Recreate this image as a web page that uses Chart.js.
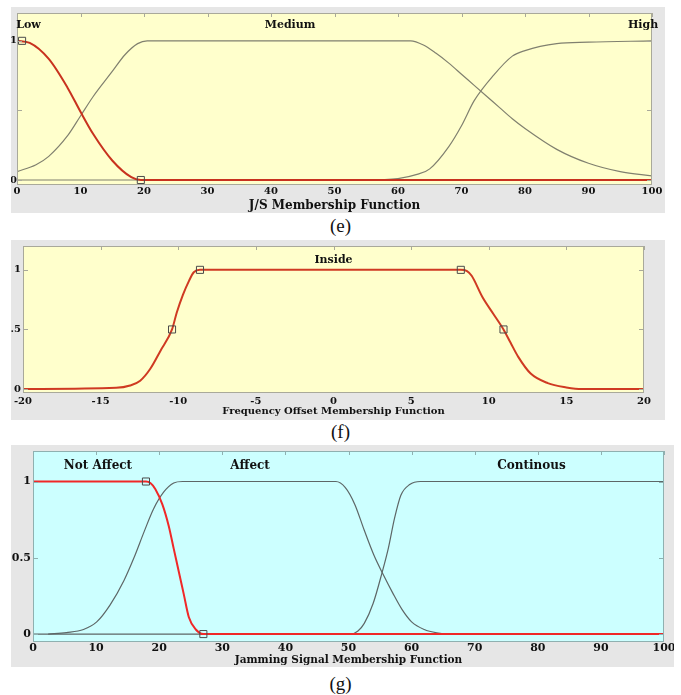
<!DOCTYPE html>
<html>
<head>
<meta charset="utf-8">
<title>Membership functions</title>
<script src="https://cdn.jsdelivr.net/npm/chart.js@4.4.1/dist/chart.umd.min.js"></script>
<style>
  body { margin: 0; background: #fff; }
  #page { position: relative; width: 681px; height: 695px; overflow: hidden; }
  canvas { position: absolute; }
  .cap { position: absolute; left: 0; width: 681px; text-align: center;
         font-family: "Liberation Serif", "Times New Roman", serif; font-size: 19px; color: #111; line-height: 22px; }
</style>
</head>
<body>
<div id="page">
  <canvas id="chartE" width="654" height="206" style="left:11px;top:7px"></canvas>
  <div class="cap" style="top:215px">(e)</div>
  <canvas id="chartF" width="654" height="180" style="left:11px;top:240px"></canvas>
  <div class="cap" style="top:421px">(f)</div>
  <canvas id="chartG" width="663" height="222" style="left:11px;top:445px"></canvas>
  <div class="cap" style="top:673px">(g)</div>
</div>
<script>
// ---- (e) J/S membership ----
const eXTicks = [0, 10, 20, 30, 40, 50, 60, 70, 80, 90, 100];
const eYTicks = [0, 0.5, 1];
const eYTickLabels = ['0', '', '1'];
const eLowX = [0, 2, 5, 8, 10, 12, 15, 18, 19.5, 40, 70, 100];
const eLowY = [1, 0.985, 0.87, 0.66, 0.49, 0.33, 0.14, 0.02, 0, 0, 0, 0];
const eMedX = [0, 3, 5, 8, 10, 12, 15, 17, 19, 20.5, 40, 62, 64, 66, 68, 70, 72, 74, 76, 78, 80, 85, 90, 95, 100];
const eMedY = [0.06, 0.11, 0.17, 0.32, 0.46, 0.6, 0.78, 0.9, 0.98, 1, 1, 1, 0.97, 0.91, 0.84, 0.76, 0.68, 0.6, 0.52, 0.44, 0.37, 0.22, 0.12, 0.06, 0.03];
const eHighX = [0, 55, 60, 63, 65, 68, 70, 72, 75, 78, 80, 85, 90, 100];
const eHighY = [0, 0, 0.01, 0.04, 0.08, 0.24, 0.39, 0.57, 0.75, 0.89, 0.93, 0.98, 0.99, 1];
const eMarkX = [0.8, 19.5];
const eMarkY = [1, 0];
const eNames = ['Low', 'Medium', 'High'];
const eNameX = [1.8, 43, 98.6];

// ---- (f) frequency offset membership ----
const fXTicks = [-20, -15, -10, -5, 0, 5, 10, 15, 20];
const fYTicks = [0, 0.5, 1];
const fYTickLabels = ['0', '.5', '1'];
const fInX = [-20, -14, -13.1, -12.45, -11.8, -11.15, -10.4, -10.1, -9.7, -9.3, -9, -8.6, 0, 8.2, 8.6, 8.9, 9.6, 10.3, 10.95, 11.4, 11.9, 12.7, 13.8, 15, 16, 20];
const fInY = [0, 0.01, 0.03, 0.07, 0.17, 0.32, 0.5, 0.64, 0.79, 0.91, 0.98, 1, 1, 1, 0.99, 0.95, 0.77, 0.63, 0.5, 0.39, 0.27, 0.13, 0.05, 0.014, 0, 0];
const fMarkX = [-10.4, -8.6, 8.2, 10.95];
const fMarkY = [0.5, 1, 1, 0.5];
const fNames = ['Inside'];
const fNameX = [0];

// ---- (g) jamming signal membership ----
const gXTicks = [0, 10, 20, 30, 40, 50, 60, 70, 80, 90, 100];
const gYTicks = [0, 0.5, 1];
const gYTickLabels = ['0', '0.5', '1'];
const gNotX = [0, 17.9, 18.6, 19.4, 20.5, 21.5, 22.3, 23.1, 23.9, 24.7, 25.8, 27, 50, 100];
const gNotY = [1, 1, 0.99, 0.95, 0.85, 0.71, 0.56, 0.41, 0.26, 0.11, 0.03, 0, 0, 0];
const gAffX = [2.4, 5.3, 8, 10.1, 12.2, 14.4, 16, 17.6, 19.1, 20.7, 22.3, 23.7, 48, 49.5, 51, 52.5, 54, 55.5, 57, 58.5, 60, 62, 64, 66, 100];
const gAffY = [0, 0.01, 0.03, 0.08, 0.19, 0.35, 0.5, 0.67, 0.82, 0.93, 0.99, 1, 1, 0.96, 0.85, 0.68, 0.52, 0.39, 0.27, 0.16, 0.08, 0.03, 0.008, 0, 0];
const gContX = [0, 50.4, 51.5, 52.5, 53.9, 55.3, 56.3, 57.3, 58.3, 59.7, 61.4, 100];
const gContY = [0, 0, 0.02, 0.07, 0.2, 0.4, 0.56, 0.76, 0.91, 0.98, 1, 1];
const gMarkX = [17.9, 27];
const gMarkY = [1, 0];
const gNames = ['Not Affect', 'Affect', 'Continous'];
const gNameX = [10.3, 34.4, 79];

Chart.defaults.font.family = '"DejaVu Serif", serif';
Chart.defaults.font.weight = 'bold';
Chart.defaults.color = '#111';

function pts(xs, ys) {
    return xs.map((x, i) => ({ x: x, y: ys[i] }));
}

function curve(xs, ys, color, width) {
    return { data: pts(xs, ys), borderColor: color, borderWidth: width, pointRadius: 0,
             cubicInterpolationMode: 'monotone', fill: false };
}

function marks(xs, ys) {
    return { data: pts(xs, ys), showLine: false, pointStyle: 'rect', pointRadius: 5,
             pointBackgroundColor: 'rgba(0,0,0,0)', pointBorderColor: '#4a4a4a', pointBorderWidth: 1 };
}

// background, plot frame, inward ticks and the MF names
const mfFrame = {
    id: 'mfFrame',
    beforeDraw(chart, args, o) {
        const { ctx, chartArea: a } = chart;
        ctx.save();
        ctx.fillStyle = o.bg;
        ctx.fillRect(0, 0, chart.width, chart.height);
        ctx.fillStyle = o.plot;
        ctx.fillRect(a.left, a.top, a.right - a.left, a.bottom - a.top);
        ctx.restore();
    },
    afterDraw(chart, args, o) {
        const { ctx, chartArea: a } = chart;
        const x = chart.scales.x, y = chart.scales.y;
        ctx.save();
        ctx.strokeStyle = o.edge;
        ctx.lineWidth = 1;
        ctx.strokeRect(a.left + 0.5, a.top + 0.5, a.right - a.left - 1, a.bottom - a.top - 1);
        ctx.beginPath();
        y.ticks.forEach(t => {
            const py = Math.round(y.getPixelForValue(t.value)) + 0.5;
            ctx.moveTo(a.left, py); ctx.lineTo(a.left + 5, py);
            ctx.moveTo(a.right, py); ctx.lineTo(a.right - 5, py);
        });
        x.ticks.forEach(t => {
            const px = Math.round(x.getPixelForValue(t.value)) + 0.5;
            ctx.moveTo(px, a.top); ctx.lineTo(px, a.top + 4);
        });
        ctx.stroke();
        ctx.fillStyle = '#111';
        ctx.font = 'bold ' + o.nameSize + 'px "DejaVu Serif"';
        ctx.textAlign = 'center';
        ctx.textBaseline = 'middle';
        o.names.forEach((n, i) => {
            ctx.fillText(n, x.getPixelForValue(o.nameX[i]), y.getPixelForValue(o.nameY));
        });
        ctx.restore();
    }
};

function makeChart(id, c) {
    return new Chart(document.getElementById(id), {
        type: 'line',
        data: { datasets: c.datasets },
        options: {
            responsive: false,
            animation: false,
            events: [],
            layout: { padding: c.pad },
            plugins: {
                legend: { display: false },
                tooltip: { enabled: false },
                mfFrame: c.frame
            },
            scales: {
                x: {
                    type: 'linear', min: c.xMin, max: c.xMax,
                    grid: { display: false, drawTicks: false },
                    border: { display: false },
                    afterBuildTicks: s => { s.ticks = c.xTicks.map(v => ({ value: v })); },
                    afterFit: s => { s.height = c.xH; s.paddingLeft = 0; s.paddingRight = 0; },
                    ticks: { padding: c.xPad, font: { size: c.tickSize }, maxRotation: 0, autoSkip: false,
                             callback: v => String(v) },
                    title: { display: true, text: c.title, font: { size: c.titleSize },
                             padding: { top: 0, bottom: c.titlePad } }
                },
                y: {
                    type: 'linear', min: c.yMin, max: 1.2,
                    grid: { display: false, drawTicks: false },
                    border: { display: false },
                    afterBuildTicks: s => { s.ticks = c.yTicks.map(v => ({ value: v })); },
                    afterFit: s => { s.width = c.yW; s.paddingTop = 0; s.paddingBottom = 0; },
                    ticks: { padding: c.yPad, font: { size: c.tickSize }, autoSkip: false,
                             callback: (v, i) => c.yLabels[i] }
                }
            }
        },
        plugins: [mfFrame]
    });
}

makeChart('chartE', {
    datasets: [
        marks(eMarkX, eMarkY),
        curve(eLowX, eLowY, '#c8321e', 2),
        curve(eMedX, eMedY, '#80806f', 1.2),
        curve(eHighX, eHighY, '#80806f', 1.2)
    ],
    pad: { left: 0, top: 6, right: 13, bottom: 0 },
    xMin: 0, xMax: 100, xTicks: eXTicks, xH: 28, xPad: 0,
    yMin: -0.036, yTicks: eYTicks, yLabels: eYTickLabels, yW: 6, yPad: 0,
    tickSize: 10, title: 'J/S Membership Function', titleSize: 12, titlePad: 0,
    frame: { bg: '#e6e6e6', plot: '#ffffcc', edge: '#a9a99a', names: eNames, nameX: eNameX, nameY: 1.115, nameSize: 11 }
});

makeChart('chartF', {
    datasets: [
        marks(fMarkX, fMarkY),
        curve(fInX, fInY, '#cf3a22', 2)
    ],
    pad: { left: 0, top: 4, right: 21, bottom: 0 },
    xMin: -20, xMax: 20, xTicks: fXTicks, xH: 27, xPad: 2,
    yMin: -0.033, yTicks: fYTicks, yLabels: fYTickLabels, yW: 12, yPad: 2,
    tickSize: 10, title: 'Frequency Offset Membership Function', titleSize: 10, titlePad: 3,
    frame: { bg: '#e6e6e6', plot: '#ffffcc', edge: '#a9a99a', names: fNames, nameX: fNameX, nameY: 1.08, nameSize: 11 }
});

makeChart('chartG', {
    datasets: [
        marks(gMarkX, gMarkY),
        curve(gNotX, gNotY, '#f02828', 2),
        curve(gAffX, gAffY, '#5d6666', 1.2),
        curve(gContX, gContY, '#5d6666', 1.2)
    ],
    pad: { left: 0, top: 3, right: 10, bottom: 0 },
    xMin: 0, xMax: 100, xTicks: gXTicks, xH: 25, xPad: 0,
    yMin: -0.052, yTicks: gYTicks, yLabels: gYTickLabels, yW: 22, yPad: 2,
    tickSize: 11, title: 'Jamming Signal Membership Function', titleSize: 10.5, titlePad: 0,
    frame: { bg: '#e6e6e6', plot: '#ccffff', edge: '#8fb0b0', names: gNames, nameX: gNameX, nameY: 1.10, nameSize: 12 }
});
</script>
</body>
</html>
